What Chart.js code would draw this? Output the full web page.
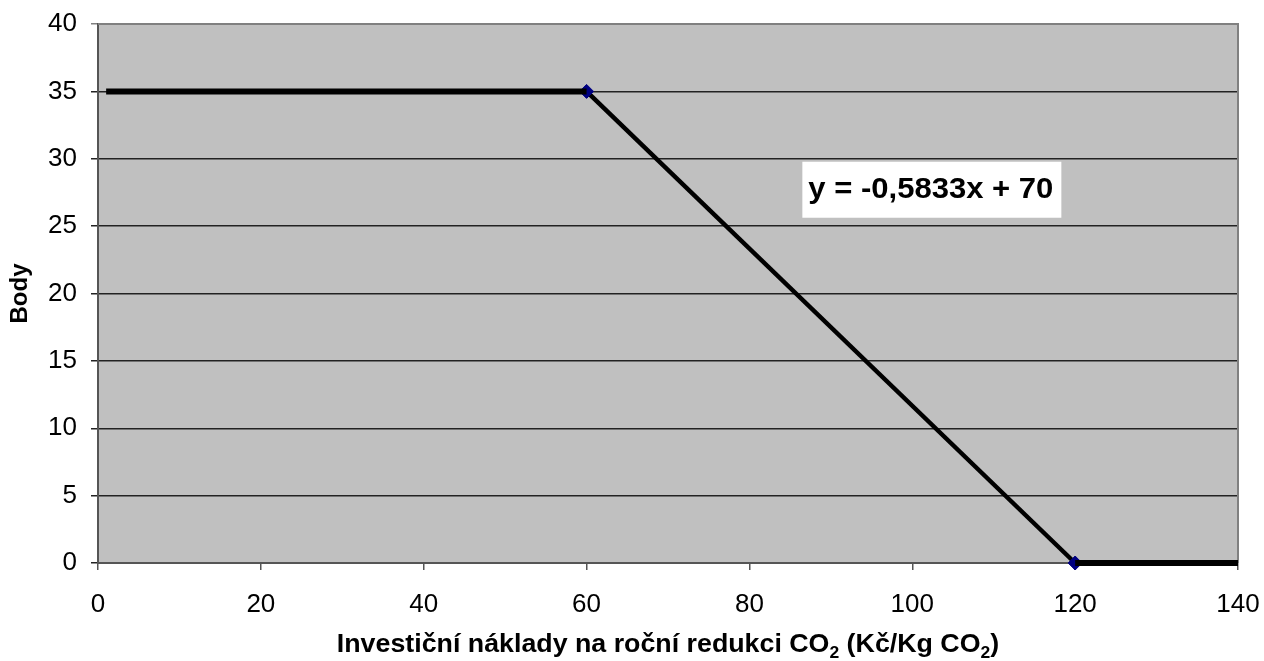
<!DOCTYPE html>
<html>
<head>
<meta charset="utf-8">
<script src="https://cdn.jsdelivr.net/npm/chart.js@4.4.0/dist/chart.umd.min.js"></script>
<style>
  html, body { margin: 0; background: #fff; }
  #wrap { width: 1264px; height: 661px; }
</style>
</head>
<body>
<div id="wrap"><canvas id="c"></canvas></div>
<script>
// data
const flatX = [1, 60];
const flatY = [35, 35];
const slopeX = [60, 120];
const slopeY = [35, 0];
const tailX = [120, 140];
const tailY = [0, 0];

const xMin = 0, xMax = 140, xStep = 20;
const yMin = 0, yMax = 40, yStep = 5;

const yTitle = 'Body';
// x title pieces, true = subscript
const xTitleParts = [
  ['Investiční náklady na roční redukci CO', false],
  ['2', true],
  [' (Kč/Kg CO', false],
  ['2', true],
  [')', false]
];
const eqText = 'y = -0,5833x + 70';
const eqPos = [86.5, 27.7]; // left edge / vertical middle, in data units

const FONT = '"Liberation Sans", Arial, sans-serif';

function pts(xs, ys) {
  return xs.map((x, i) => ({ x: x, y: ys[i] }));
}

// grey plot area + grey top/right frame
const plotBg = {
  id: 'plotBg',
  beforeDraw(chart) {
    const { ctx, chartArea: a } = chart;
    ctx.save();
    ctx.fillStyle = '#c0c0c0';
    ctx.fillRect(a.left, a.top, a.right - a.left, a.bottom - a.top);
    ctx.restore();
  },
  beforeDatasetsDraw(chart) {
    const { ctx, chartArea: a } = chart;
    ctx.save();
    ctx.strokeStyle = '#808080';
    ctx.lineWidth = 2;
    ctx.beginPath();
    ctx.moveTo(a.left, a.top);
    ctx.lineTo(a.right, a.top);
    ctx.lineTo(a.right, a.bottom);
    ctx.stroke();
    ctx.restore();
  }
};

// equation label with white box
const eqLabel = {
  id: 'eqLabel',
  afterDatasetsDraw(chart) {
    const { ctx, scales } = chart;
    const left = scales.x.getPixelForValue(eqPos[0]);
    const mid = scales.y.getPixelForValue(eqPos[1]);
    const sx = 1.07;
    ctx.save();
    ctx.font = 'bold 29px ' + FONT;
    const w = ctx.measureText(eqText).width * sx;
    ctx.fillStyle = '#fff';
    ctx.fillRect(left, mid - 28, w + 14, 56);
    ctx.fillStyle = '#000';
    ctx.textBaseline = 'middle';
    ctx.translate(left + 6, mid);
    ctx.scale(sx, 1);
    ctx.fillText(eqText, 0, 0);
    ctx.restore();
  }
};

// x axis title with subscripts
const xTitle = {
  id: 'xTitle',
  afterDraw(chart) {
    const { ctx, chartArea: a } = chart;
    const big = 'bold 26px ' + FONT;
    const small = 'bold 17px ' + FONT;
    const sx = 1.03;
    ctx.save();
    let total = 0;
    xTitleParts.forEach(([t, sub]) => {
      ctx.font = sub ? small : big;
      total += ctx.measureText(t).width;
    });
    ctx.translate((a.left + a.right) / 2 - total * sx / 2, 652);
    ctx.scale(sx, 1);
    let x = 0;
    ctx.fillStyle = '#000';
    ctx.textBaseline = 'alphabetic';
    xTitleParts.forEach(([t, sub]) => {
      ctx.font = sub ? small : big;
      ctx.fillText(t, x, sub ? 6 : 0);
      x += ctx.measureText(t).width;
    });
    ctx.restore();
  }
};

new Chart(document.getElementById('c'), {
  type: 'line',
  data: {
    datasets: [
      {
        data: pts(flatX, flatY),
        borderColor: '#000',
        borderWidth: 6,
        pointRadius: 0,
        borderCapStyle: 'butt',
        clip: false
      },
      {
        data: pts(tailX, tailY),
        borderColor: '#000',
        borderWidth: 6,
        pointRadius: 0,
        borderCapStyle: 'butt',
        clip: false
      },
      {
        data: pts(slopeX, slopeY),
        borderColor: '#000',
        borderWidth: 4.5,
        pointStyle: 'rectRot',
        pointRadius: 7,
        pointBackgroundColor: '#000080',
        pointBorderColor: '#000080',
        pointBorderWidth: 1,
        clip: false
      }
    ]
  },
  options: {
    responsive: true,
    maintainAspectRatio: false,
    animation: false,
    devicePixelRatio: 1,
    layout: { padding: { top: 24, right: 26, left: 0, bottom: 0 } },
    plugins: {
      legend: { display: false },
      tooltip: { enabled: false }
    },
    scales: {
      x: {
        type: 'linear',
        min: xMin,
        max: xMax,
        afterFit(scale) {
          scale.height = 98;
          scale.paddingLeft = 0;
          scale.paddingRight = 0;
        },
        ticks: {
          stepSize: xStep,
          color: '#000',
          padding: 19,
          maxRotation: 0,
          font: { family: FONT, size: 26 }
        },
        grid: {
          drawOnChartArea: false,
          drawTicks: true,
          tickLength: 7,
          color: '#555',
          lineWidth: 1.5
        },
        border: { color: '#555', width: 2 }
      },
      y: {
        min: yMin,
        max: yMax,
        afterFit(scale) {
          scale.width = 98;
          scale.paddingTop = 0;
          scale.paddingBottom = 0;
        },
        ticks: {
          stepSize: yStep,
          color: '#000',
          padding: 14,
          font: { family: FONT, size: 26 }
        },
        grid: {
          color: ctx => (ctx.tick && ctx.tick.value === yMax) ? '#808080' : '#222',
          lineWidth: 1.5,
          drawTicks: true,
          tickLength: 7
        },
        border: { color: '#555', width: 2 },
        title: {
          display: true,
          text: yTitle,
          color: '#000',
          padding: { top: 6, bottom: 0 },
          font: { family: FONT, size: 24, weight: 'bold' }
        }
      }
    }
  },
  plugins: [plotBg, eqLabel, xTitle]
});
</script>
</body>
</html>
